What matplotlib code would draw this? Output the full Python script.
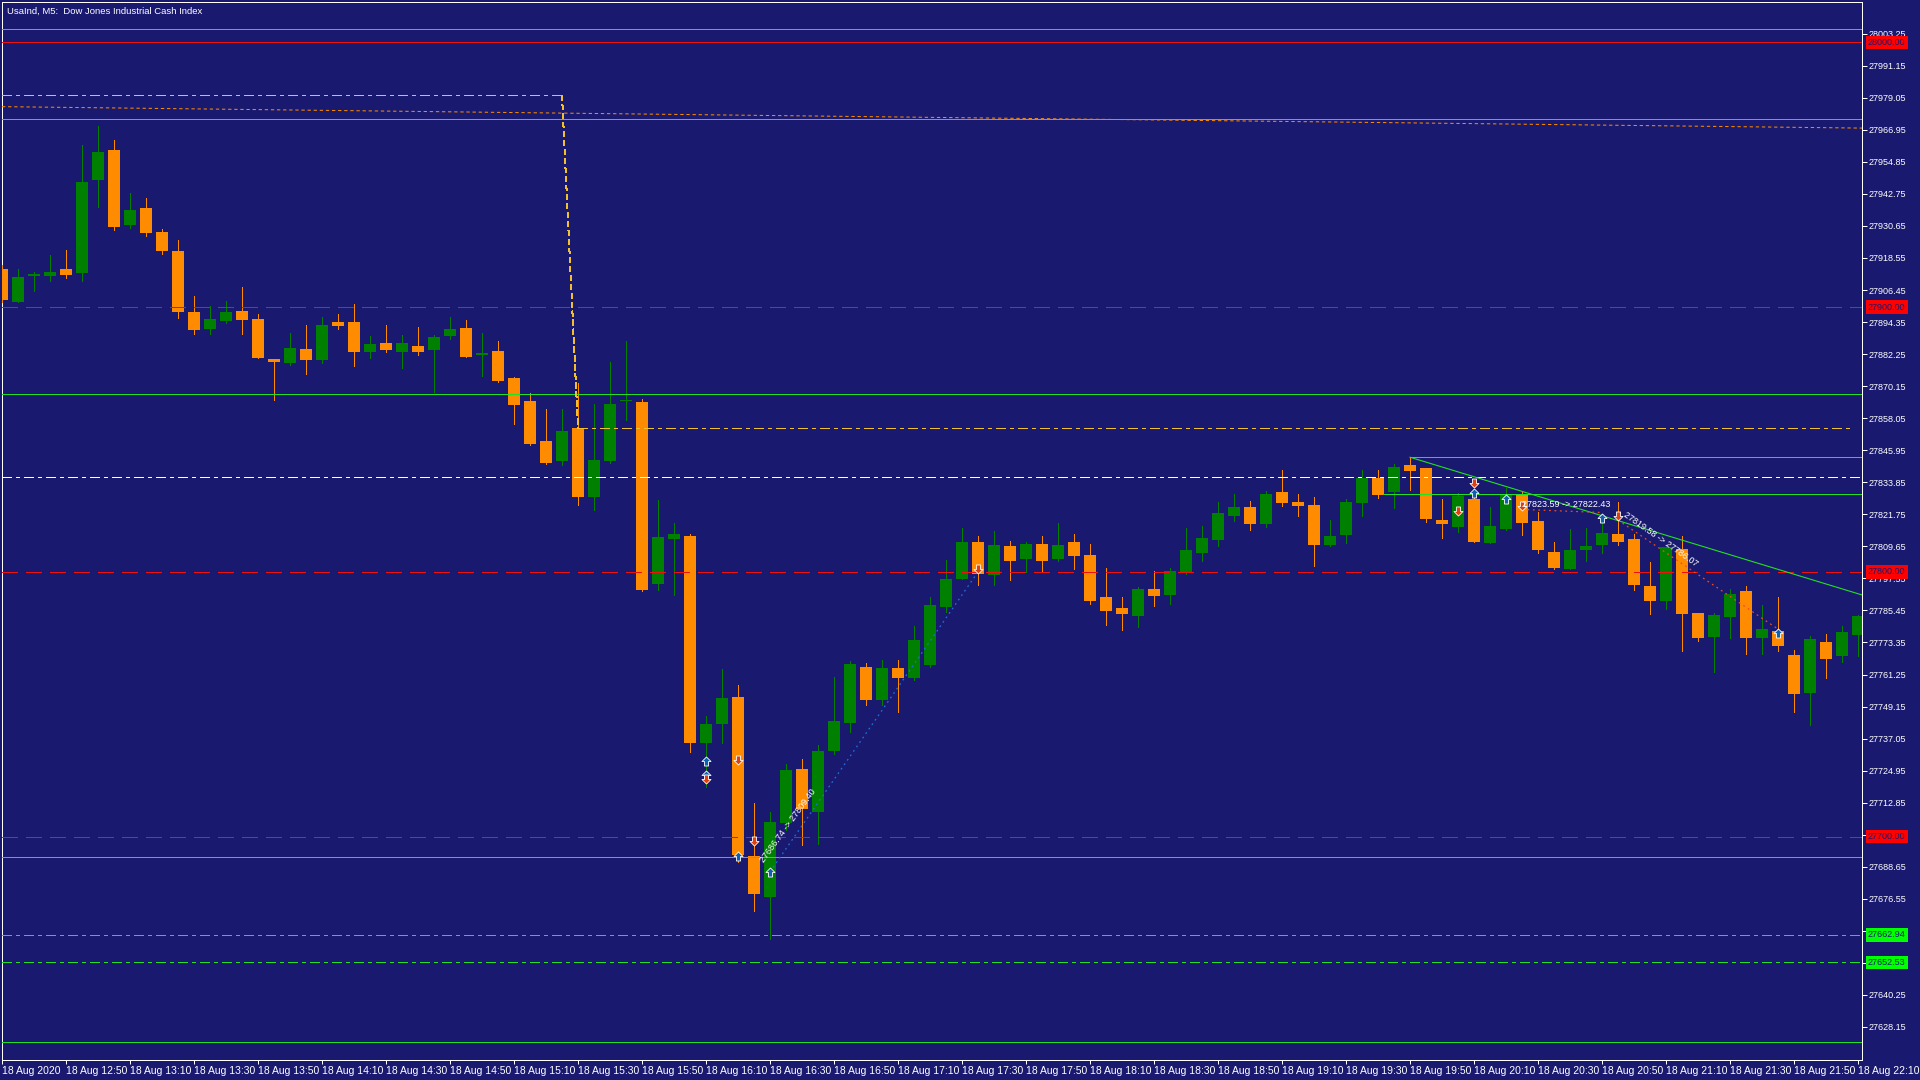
import matplotlib
matplotlib.use("Agg")
import matplotlib.pyplot as plt
import numpy as np
import pandas as pd
from matplotlib.path import Path

# UsaInd M5, 18 Aug 2020 12:30 .. 22:10 (one row per bar)
opens = [27914.4, 27901.9, 27911.9, 27911.8, 27914.4, 27912.9, 27948.0, 27959.3, 27931.0, 27937.4,
         27928.4, 27921.2, 27898.2, 27891.7, 27894.8, 27898.5, 27895.5, 27880.4, 27878.9, 27884.2,
         27880.0, 27894.4, 27894.4, 27883.1, 27886.5, 27883.1, 27885.3, 27883.8, 27889.1, 27892.1,
         27881.9, 27883.5, 27873.2, 27864.6, 27849.4, 27842.0, 27854.4, 27828.1, 27842.0, 27864.4,
         27864.2, 27795.3, 27812.6, 27813.6, 27735.2, 27742.4, 27752.8, 27692.7, 27677.4, 27705.3,
         27725.5, 27709.5, 27732.5, 27743.1, 27764.1, 27751.6, 27763.7, 27759.9, 27764.9, 27786.8,
         27797.3, 27811.3, 27798.8, 27809.8, 27804.9, 27810.6, 27804.9, 27811.3, 27806.4, 27790.5,
         27786.4, 27783.4, 27793.6, 27791.3, 27800.0, 27807.2, 27812.1, 27821.1, 27824.5, 27818.1,
         27830.2, 27826.4, 27825.3, 27810.2, 27814.0, 27826.0, 27835.5, 27830.2, 27840.4, 27839.3,
         27819.6, 27817.0, 27827.5, 27810.9, 27816.2, 27829.4, 27819.2, 27807.5, 27801.1, 27808.3,
         27810.2, 27814.3, 27812.4, 27794.7, 27789.0, 27808.7, 27784.5, 27775.4, 27783.0, 27792.8,
         27775.1, 27777.7, 27768.6, 27754.3, 27773.5, 27768.3, 27776.2]
highs = [27915.9, 27914.4, 27913.3, 27919.7, 27921.6, 27961.2, 27968.4, 27963.1, 27943.1, 27941.2,
         27929.5, 27925.4, 27904.2, 27900.4, 27902.3, 27907.6, 27897.4, 27880.4, 27890.2, 27893.3,
         27896.3, 27897.4, 27901.2, 27889.1, 27893.3, 27889.5, 27892.5, 27889.5, 27896.3, 27895.1,
         27890.2, 27887.2, 27873.6, 27867.6, 27861.5, 27861.5, 27871.3, 27863.4, 27879.3, 27887.2,
         27865.3, 27827.2, 27818.5, 27814.3, 27745.7, 27763.3, 27757.3, 27712.7, 27709.4, 27727.5,
         27729.4, 27734.6, 27760.3, 27766.4, 27765.6, 27766.7, 27766.7, 27779.6, 27790.5, 27804.5,
         27816.6, 27813.6, 27815.5, 27811.7, 27811.3, 27813.6, 27818.5, 27814.3, 27810.6, 27801.5,
         27790.5, 27794.3, 27800.4, 27801.5, 27816.6, 27817.3, 27826.4, 27829.4, 27826.8, 27830.6,
         27838.5, 27829.4, 27828.3, 27819.6, 27827.5, 27838.5, 27838.5, 27840.8, 27843.4, 27839.3,
         27827.5, 27829.8, 27829.8, 27824.5, 27831.7, 27830.2, 27822.6, 27811.3, 27816.2, 27816.6,
         27819.6, 27826.4, 27814.3, 27803.8, 27809.4, 27813.6, 27784.5, 27784.5, 27793.6, 27794.7,
         27787.5, 27790.5, 27770.5, 27775.8, 27776.6, 27779.6, 27783.7]
lows = [27901.9, 27901.9, 27906.1, 27909.9, 27911.1, 27909.9, 27937.8, 27929.1, 27929.9, 27926.9,
        27920.1, 27895.9, 27889.9, 27889.9, 27894.0, 27889.9, 27880.8, 27864.9, 27878.1, 27874.7,
        27878.9, 27891.7, 27877.8, 27880.8, 27883.1, 27877.0, 27881.9, 27868.0, 27888.0, 27881.2,
        27874.1, 27871.7, 27856.0, 27847.9, 27840.8, 27840.2, 27825.1, 27823.2, 27841.3, 27857.4,
        27792.6, 27793.3, 27791.1, 27732.1, 27718.9, 27735.2, 27690.3, 27672.1, 27661.4, 27702.5,
        27697.0, 27697.3, 27731.3, 27739.4, 27749.8, 27749.8, 27747.1, 27759.2, 27764.1, 27784.9,
        27797.3, 27795.1, 27795.1, 27797.0, 27800.0, 27800.0, 27804.1, 27801.1, 27787.9, 27780.0,
        27778.1, 27779.2, 27787.1, 27787.9, 27799.2, 27804.1, 27809.8, 27819.2, 27815.8, 27817.0,
        27824.9, 27821.1, 27802.2, 27809.8, 27810.9, 27821.1, 27827.9, 27824.1, 27830.9, 27819.0,
        27812.8, 27815.1, 27811.3, 27810.9, 27815.8, 27814.0, 27807.2, 27801.1, 27801.1, 27804.1,
        27807.2, 27810.2, 27793.2, 27784.1, 27786.0, 27770.1, 27773.9, 27762.2, 27775.1, 27769.0,
        27769.0, 27770.1, 27747.1, 27742.2, 27759.9, 27766.0, 27768.3]
closes = [27902.7, 27911.4, 27912.6, 27913.3, 27912.1, 27947.3, 27958.6, 27930.3, 27936.7, 27928.0,
          27921.2, 27898.2, 27891.4, 27895.5, 27898.2, 27895.1, 27880.8, 27879.3, 27884.6, 27880.0,
          27893.3, 27892.9, 27883.1, 27886.1, 27883.8, 27886.5, 27883.1, 27888.7, 27891.7, 27881.2,
          27882.7, 27872.1, 27863.2, 27848.4, 27841.3, 27853.2, 27828.1, 27842.3, 27863.5, 27864.7,
          27793.3, 27813.2, 27814.3, 27735.2, 27742.5, 27752.4, 27693.1, 27678.2, 27705.5, 27725.2,
          27710.3, 27732.4, 27743.7, 27765.2, 27751.6, 27763.7, 27759.9, 27774.3, 27787.5, 27797.3,
          27811.3, 27799.2, 27810.2, 27804.1, 27810.6, 27804.1, 27810.2, 27806.0, 27789.0, 27785.2,
          27784.1, 27793.6, 27790.9, 27800.4, 27808.3, 27812.8, 27822.3, 27824.5, 27818.1, 27829.4,
          27826.0, 27824.9, 27810.2, 27813.6, 27826.4, 27835.5, 27829.1, 27839.6, 27838.1, 27820.0,
          27818.1, 27828.7, 27811.3, 27817.3, 27829.4, 27818.5, 27808.3, 27801.5, 27808.3, 27809.8,
          27814.7, 27811.3, 27795.1, 27789.0, 27809.4, 27784.1, 27775.1, 27783.7, 27791.7, 27775.1,
          27778.4, 27772.0, 27753.9, 27774.7, 27767.1, 27777.3, 27783.4]

# price axis labels
price_ticks = np.round(28003.25 - 12.10 * np.arange(32), 2)

# horizontal levels
red_solid = [28000.00]
red_dashed = [27900.00, 27800.00, 27700.00]
green_solid = [28004.9, 27971.0, 27867.1, 27692.3, 27622.5]
green_dashdot = [27662.94, 27652.53]
white_dashdot = 27835.7
box_red = [28000.00, 27900.00, 27800.00, 27700.00]
box_green = [27662.94, 27652.53]

# yellow level that moved: old level, new level, bar where it moved
yellow_old, yellow_new = 27980.0, 27854.3
yellow_bars = [0, 35.0, 36.0, 115.7]

# orange dotted level (slowly falling)
ma_bars = [0, 116.25]
ma_vals = [27975.7, 27967.6]

# trendline and two short levels on the right
trend_bars = [88, 116.25]
trend_vals = [27843.3, 27791.3]
short_levels = [(88, 27843.3), (86.3, 27829.3)]

# trade arrows: (bar, price)
buy_arrows = [(44, 27728.6), (44, 27723.4), (46, 27692.6), (48, 27686.7), (92, 27829.8),
              (94, 27827.5), (100, 27820.4), (111, 27776.9)]
sell_arrows = [(44, 27721.9), (46, 27729.1), (47, 27698.3), (61, 27801.1), (92, 27833.6),
               (91, 27823.0), (95, 27824.9), (101, 27821.1)]

# closed trades
trades = [
    dict(b0=48, p0=27686.74, b1=61, p1=27800.0, color='#2070d8', text='27686.74 -> 27809.40', rot=54,
         tx=47.6, ty=27690.1),
    dict(b0=95, p0=27823.59, b1=100, p1=27822.43, color='#f04a20', text='27823.59 -> 27822.43', rot=0,
         tx=95.0, ty=27824.5),
    dict(b0=101, p0=27819.58, b1=111, p1=27778.4, color='#f04a20', text='27819.58 -> 27786.07', rot=-35,
         tx=101.3, ty=27821.0),
]

BG = '#191970'
BULL = '#008000'
BEAR = '#ff8c00'
LIME = '#22e022'
RED = '#f01010'
GOLD = '#f0c030'
FONT = 'Liberation Sans'
LW = 0.72  # one pixel

plt.rcParams['lines.scale_dashes'] = False
plt.rcParams['font.family'] = FONT

fig = plt.figure(figsize=(19.2, 10.8), dpi=100, facecolor=BG)
ax = fig.add_axes([2 / 1920, 20 / 1080, 1860 / 1920, 1058 / 1080], facecolor=BG)
ax.set_xlim(0, 116.25)
ax.set_ylim(27615.67, 28015.22)

o = np.array(opens)
h = np.array(highs)
l = np.array(lows)
c = np.array(closes)
x = np.arange(len(o))
cols = np.where(c >= o, BULL, BEAR)

ax.vlines(x, l, h, colors=cols, lw=LW, zorder=3, antialiased=False)
body_lo = np.minimum(o, c)
body_h = np.maximum(np.abs(c - o), 0.4)
ax.bar(x, body_h, bottom=body_lo, width=0.69, color=cols, lw=0, zorder=4, antialiased=False)

# levels
dashdot = (0, (6.5, 2.9, 2.2, 2.9))
ax.plot(ma_bars, ma_vals, color=BEAR, lw=LW, ls=(0, (2.4, 2.0)), zorder=5)
for p in green_solid:
    ax.axhline(p, color=LIME, lw=LW, zorder=6, antialiased=False)
for p in red_solid:
    ax.axhline(p, color=RED, lw=LW, zorder=6, antialiased=False)
for p in red_dashed:
    ax.axhline(p, color=RED, lw=LW, ls=(0, (11.5, 5.8)), zorder=6, antialiased=False)
for p in green_dashdot:
    ax.axhline(p, color=LIME, lw=LW, ls=dashdot, zorder=6, antialiased=False)
ax.axhline(white_dashdot, color='white', lw=LW, ls=dashdot, zorder=6, antialiased=False)

ax.plot(yellow_bars[:2], [yellow_old, yellow_old], color=GOLD, lw=LW, ls=dashdot, zorder=6,
        antialiased=False)
ax.plot(yellow_bars[1:3], [yellow_old, yellow_new], color=GOLD, lw=LW, ls=(0, (3.6, 2.2)),
        zorder=6, antialiased=False)
ax.plot(yellow_bars[2:], [yellow_new, yellow_new], color=GOLD, lw=LW, ls=dashdot, zorder=6,
        antialiased=False)

for b, p in short_levels:
    ax.plot([b, 117], [p, p], color=LIME, lw=LW, zorder=6, antialiased=False)
ax.plot(trend_bars, trend_vals, color=LIME, lw=0.8, zorder=6)

# trades
for t in trades:
    ax.plot([t['b0'], t['b1']], [t['p0'], t['p1']], color=t['color'], lw=0.9, ls=(0, (1.3, 2.6)),
            zorder=7)
    ax.text(t['tx'], t['ty'], t['text'], color='white', fontsize=6.5, rotation=t['rot'],
            rotation_mode='anchor', ha='left', va='baseline', zorder=9)

up_path = Path([(0, 1), (1, 0), (0.45, 0), (0.45, -1), (-0.45, -1), (-0.45, 0), (-1, 0), (0, 1)],
               closed=True)
down_path = Path([(0, -1), (1, 0), (0.45, 0), (0.45, 1), (-0.45, 1), (-0.45, 0), (-1, 0), (0, -1)],
                 closed=True)
bx, by = zip(*buy_arrows)
ax.plot(bx, by, ls='none', marker=up_path, ms=6.5, mfc='#1060b0', mec='white', mew=0.6, zorder=8)
sx, sy = zip(*sell_arrows)
ax.plot(sx, sy, ls='none', marker=down_path, ms=6.5, mfc='#e04010', mec='white', mew=0.6, zorder=8)

# axes styling
for s in ax.spines.values():
    s.set_color('white')
    s.set_linewidth(LW)
ax.yaxis.tick_right()
ax.set_yticks(price_ticks)
ax.set_yticklabels([f'{v:.2f}' for v in price_ticks])
ax.tick_params(axis='y', colors='white', labelsize=6.5, length=3.6, width=LW, pad=1)

times = pd.date_range('2020-08-18 12:30', periods=len(o), freq='5min')
xt = list(range(0, len(o), 4))
xl = ['18 Aug 2020'] + [times[i].strftime('%d %b %H:%M') for i in xt[1:]]
ax.set_xticks(xt)
ax.set_xticklabels(xl, ha='left')
ax.tick_params(axis='x', colors='white', labelsize=7.5, length=3, width=LW, pad=1)

for p in box_red:
    ax.annotate(f'{p:.2f}', xy=(1, p), xycoords=('axes fraction', 'data'), xytext=(4.3, 0),
                textcoords='offset points', ha='left', va='center', fontsize=6.5, color=BG,
                bbox=dict(boxstyle='square,pad=0.25', fc='#ff0000', ec='none'),
                annotation_clip=False, zorder=10)
for p in box_green:
    ax.annotate(f'{p:.2f}', xy=(1, p), xycoords=('axes fraction', 'data'), xytext=(4.3, 0),
                textcoords='offset points', ha='left', va='center', fontsize=6.5, color=BG,
                bbox=dict(boxstyle='square,pad=0.25', fc='#00ff00', ec='none'),
                annotation_clip=False, zorder=10)

ax.text(0.0025, 0.9955, 'UsaInd, M5:  Dow Jones Industrial Cash Index', transform=ax.transAxes,
        color='white', fontsize=6.8, ha='left', va='top', zorder=10)

fig.savefig('out.png', dpi=100, facecolor=BG)
